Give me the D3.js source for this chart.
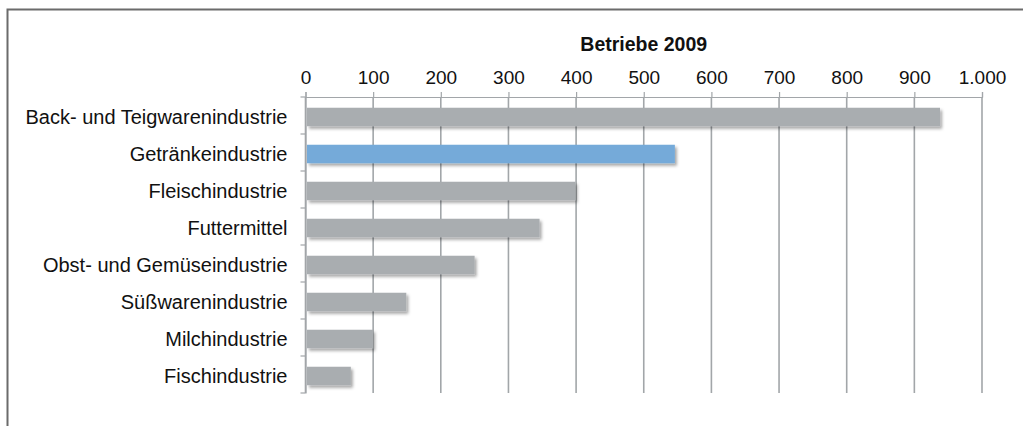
<!DOCTYPE html>
<html>
<head>
<meta charset="utf-8">
<script src="https://cdn.jsdelivr.net/npm/d3@7"></script>
<style>
  html, body { margin: 0; padding: 0; background: #fff; }
  svg { display: block; }
  svg text { font-family: "Liberation Sans", Arial, sans-serif; }
</style>
</head>
<body>
<div id="chart"></div>
<script>
// data
const categories = [
  "Back- und Teigwarenindustrie",
  "Getränkeindustrie",
  "Fleischindustrie",
  "Futtermittel",
  "Obst- und Gemüseindustrie",
  "Süßwarenindustrie",
  "Milchindustrie",
  "Fischindustrie"
];
const values = [938, 546, 399, 346, 250, 149, 100, 67];
const highlighted = ["Getränkeindustrie"];
const xTicks = [0, 100, 200, 300, 400, 500, 600, 700, 800, 900, 1000];
const title = "Betriebe 2009";

const W = 1023, H = 426;
const margin = { top: 97, right: 41, bottom: 33, left: 305.5 };
const width = W - margin.left - margin.right;
const height = H - margin.top - margin.bottom;

const de = d3.formatLocale({ decimal: ",", thousands: ".", grouping: [3], currency: ["", " €"] });
const fmt = de.format(",");

const svg = d3.select("#chart").append("svg")
  .attr("width", W)
  .attr("height", H);

// outer frame (top and left edges visible)
svg.append("path")
  .attr("d", `M7.5,${H} V9.5 H${W}`)
  .attr("fill", "none")
  .attr("stroke", "#6b6b6b")
  .attr("stroke-width", 2);

const defs = svg.append("defs");
const shadow = defs.append("filter").attr("id", "shadow")
  .attr("x", "-5%").attr("y", "-30%").attr("width", "115%").attr("height", "180%");
shadow.append("feDropShadow")
  .attr("dx", 2).attr("dy", 2.5)
  .attr("stdDeviation", 1.6)
  .attr("flood-color", "#000")
  .attr("flood-opacity", 0.35);

const g = svg.append("g").attr("transform", `translate(${margin.left},${margin.top})`);

const x = d3.scaleLinear().domain([0, 1000]).range([0, width]);
const y = d3.scaleBand().domain(categories).range([0, height]).paddingInner(0.5).paddingOuter(0.25);

// vertical gridlines
g.append("g").selectAll("line")
  .data(xTicks)
  .enter().append("line")
  .attr("x1", d => x(d)).attr("x2", d => x(d))
  .attr("y1", 0).attr("y2", height)
  .attr("stroke", "#a2a6a9")
  .attr("stroke-width", 1.6);

// top axis with labels
const xAxis = g.append("g")
  .call(d3.axisTop(x).tickValues(xTicks).tickFormat(fmt).tickSize(5).tickPadding(8));
xAxis.attr("font-family", null).attr("font-size", null);
xAxis.select(".domain").attr("stroke", "#a2a6a9").attr("stroke-width", 1.2);
xAxis.selectAll(".tick line").attr("stroke", "#a2a6a9").attr("stroke-width", 1.2);
xAxis.selectAll(".tick text")
  .attr("fill", "#111")
  .style("font-size", "19px");

// left axis: category labels
const yAxis = g.append("g")
  .call(d3.axisLeft(y).tickSize(0).tickPadding(18));
yAxis.attr("font-family", null).attr("font-size", null);
yAxis.select(".domain").attr("stroke", "#a2a6a9").attr("stroke-width", 1.2);
yAxis.selectAll(".tick text")
  .attr("fill", "#111")
  .attr("dy", "0.42em")
  .style("font-size", "20px");

// tick marks on band boundaries
const step = y.step();
const bounds = categories.map(c => y(c) - step * y.paddingInner() / 2).concat([height]);
g.append("g").selectAll("line")
  .data(bounds)
  .enter().append("line")
  .attr("x1", -5).attr("x2", 0)
  .attr("y1", d => d).attr("y2", d => d)
  .attr("stroke", "#a2a6a9")
  .attr("stroke-width", 1.2);

// bars
g.append("g").selectAll("rect")
  .data(categories.map((c, i) => ({ c, v: values[i] })))
  .enter().append("rect")
  .attr("x", x(0) + 1.5)
  .attr("y", d => y(d.c) + 1.5)
  .attr("width", d => x(d.v) - x(0) - 1.5)
  .attr("height", y.bandwidth())
  .attr("fill", d => highlighted.includes(d.c) ? "#75aad9" : "#a9adb0")
  .attr("filter", "url(#shadow)");

// title
svg.append("text")
  .attr("x", margin.left + width / 2)
  .attr("y", 51)
  .attr("text-anchor", "middle")
  .attr("font-weight", "bold")
  .attr("fill", "#111")
  .style("font-size", "19.5px")
  .text(title);
</script>
</body>
</html>
